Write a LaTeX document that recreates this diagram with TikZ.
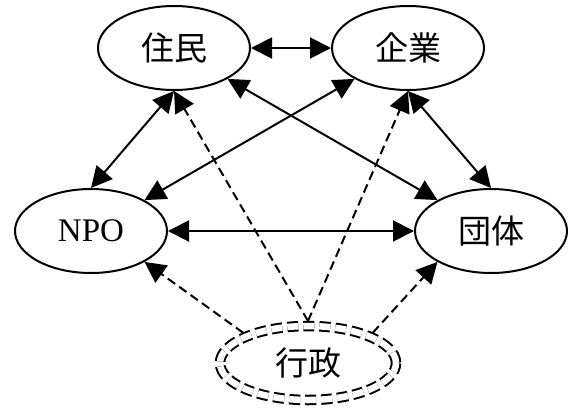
\documentclass[tikz,border=0pt]{standalone}
\usepackage{fontspec}
\setmainfont{Liberation Serif}
\newfontfamily\cjk{Noto Sans CJK JP}
\usetikzlibrary{shapes.geometric,arrows.meta}
\begin{document}
\begin{tikzpicture}[x=1pt,y=-1pt,
  actor/.style={ellipse, draw, line width=2pt, minimum width=152pt,
    minimum height=84pt, inner sep=0pt, font=\fontsize{33}{33}\selectfont},
  govt/.style={ellipse, draw, line width=2pt, double, double distance=6.5pt,
    dash pattern=on 11pt off 5pt, minimum width=176pt, minimum height=74pt,
    inner sep=0pt, outer sep=5pt, font=\fontsize{33}{33}\selectfont},
  tip/.tip={Triangle[length=21pt,width=21pt]},
  link/.style={line width=2pt, tip-tip},
  admin/.style={line width=2pt, dash pattern=on 9pt off 5pt, -tip}]
\useasboundingbox (0,0) rectangle (572,410);

% actors
\node[actor] (jumin)  at (174,48)  {\cjk 住民};
\node[actor] (kigyo)  at (408,48)  {\cjk 企業};
\node[actor] (npo)    at (91,231)  {NPO};
\node[actor] (dantai) at (491,231) {\cjk 団体};
\node[govt]  (gyosei) at (308,363) {\cjk 行政};

% mutual relations
\draw[link] (jumin.east) -- (kigyo.west);
\draw[link] (jumin.south) -- (npo.north);
\draw[link] (jumin.-30) -- (dantai.150);
\draw[link] (kigyo.210) -- (npo.30);
\draw[link] (kigyo.south) -- (dantai.north);
\draw[link] (npo.east) -- (dantai.west);

% administration support
\draw[admin] (gyosei.north) -- (jumin.south);
\draw[admin] (gyosei.north) -- (kigyo.south);
\draw[admin] (gyosei.155) -- (npo.-30);
\draw[admin] (gyosei.25) -- (dantai.210);
\end{tikzpicture}
\end{document}
